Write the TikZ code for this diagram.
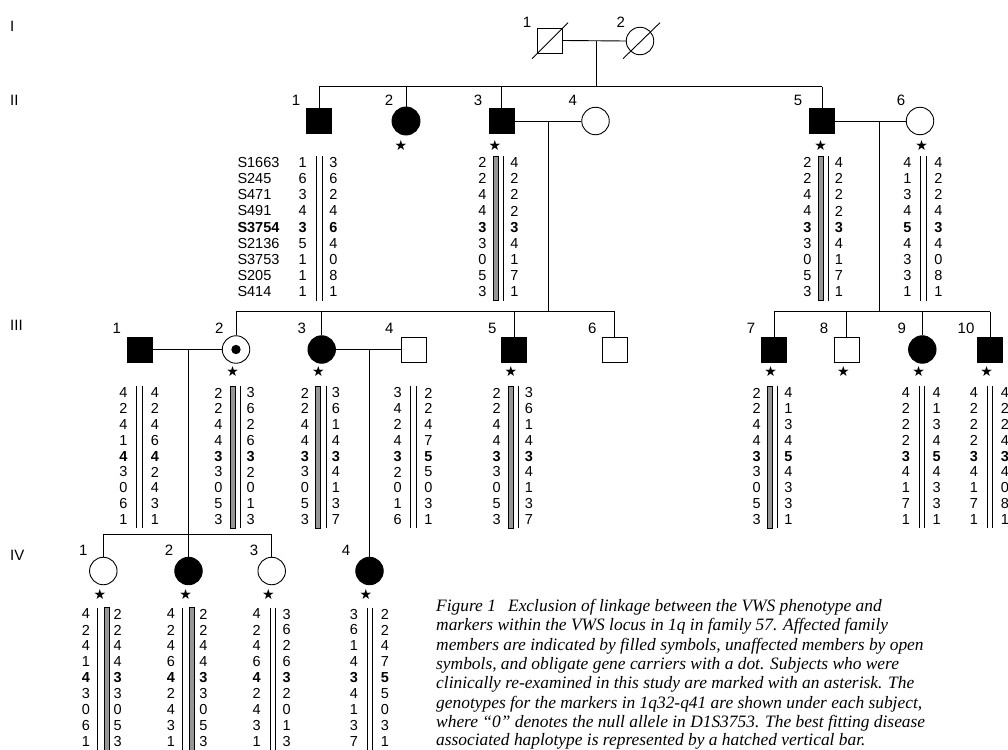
\documentclass[tikz,border=0pt]{standalone}
\usepackage{fontspec}
\setmainfont{Liberation Serif}
\setsansfont{Liberation Sans}
\newfontfamily\symfont{DejaVu Sans}
\usetikzlibrary{calc}
\definecolor{barg}{RGB}{150,150,150}
\newcommand\hapfont{\sffamily\fontsize{14.5}{14.5}\selectfont}
\newcommand\pedfont{\sffamily\fontsize{15}{15}\selectfont}
\newcommand\capfont{\rmfamily\itshape\fontsize{17.4}{19.5}\selectfont}
\newcommand\starfont{\symfont\fontsize{14}{14}\selectfont}
\tikzset{
  ln/.style={line width=0.9pt},
  male/.style={draw,rectangle,minimum size=25pt,inner sep=0pt,line width=0.9pt},
  female/.style={draw,circle,minimum size=27.5pt,inner sep=0pt,line width=0.9pt},
  aff/.style={fill=black},
  plbl/.style={font=\pedfont,inner sep=0pt},
  hnum/.style={font=\hapfont,inner sep=0pt},
  hnumb/.style={font=\hapfont\bfseries,inner sep=0pt},
  stmark/.style={font=\starfont,inner sep=0pt},
  bar/.style={line width=0.9pt},
  gbar/.style={draw=black,fill=barg,line width=0.8pt},
  captxt/.style={font=\capfont,inner sep=0pt,anchor=base west}
}
% column of alleles: #1 x, #2 y1, #3 dy, #4 list, #5 name
\newcommand\hapcol[5]{%
  \foreach \v [count=\i] in {#4} {%
    \ifnum\i=5
      \node[hnumb] (#5\i) at (#1,{#2+(\i-1)*#3}) {\v};
    \else
      \node[hnum] (#5\i) at (#1,{#2+(\i-1)*#3}) {\v};
    \fi
  }}
\newcommand\dblbar[4]{\draw[bar] (#1,#3) -- (#1,#4); \draw[bar] (#2,#3) -- (#2,#4);}
\newcommand\greyL[4]{\draw[gbar] ({#1-2.6},#3) rectangle ({#1+2.6},#4); \draw[bar] (#2,#3) -- (#2,#4);}
\newcommand\greyR[4]{\draw[bar] (#1,#3) -- (#1,#4); \draw[gbar] ({#2-2.6},#3) rectangle ({#2+2.6},#4);}
\begin{document}
\begin{tikzpicture}[x=1pt,y=-1pt]
\useasboundingbox (0,0) rectangle (1008,749);
% generation labels
\node[plbl,anchor=west] (gI) at (10,26) {I};
\node[plbl,anchor=west] (gII) at (10,100) {II};
\node[plbl,anchor=west] (gIII) at (10,325) {III};
\node[plbl,anchor=west] (gIV) at (10,555) {IV};

% ---------- Generation I
\node[male] (I1) at (550,40.5) {};
\node[female] (I2) at (640,41) {};
\draw[ln] ($(I1)+(-18,18.2)$) -- ($(I1)+(18,-17.8)$);
\draw[ln] ($(I2)+(-17,17.7)$) -- ($(I2)+(20,-18.3)$);
\node[plbl] (lI1) at (527,22) {1};
\node[plbl] (lI2) at (620.7,22) {2};
\draw[ln] (I1.east) -- (I2.west);
\coordinate (mI) at (596,41);
\coordinate (sII) at (596,86.7);
\draw[ln] (mI) -- (sII);

% ---------- Generation II
\node[male,aff] (II1) at (319.2,121) {};
\node[female,aff,minimum size=28pt] (II2) at (406,121) {};
\node[male,aff] (II3) at (501.7,121) {};
\node[female] (II4) at (595.5,121) {};
\node[male,aff] (II5) at (822,121) {};
\node[female] (II6) at (920,121) {};
\node[plbl] (lII1) at (296,100) {1};
\node[plbl] (lII2) at (389,100) {2};
\node[plbl] (lII3) at (478,100) {3};
\node[plbl] (lII4) at (572.7,100) {4};
\node[plbl] (lII5) at (798,100) {5};
\node[plbl] (lII6) at (901,100) {6};
\node[stmark] (sII2) at (401,145) {★};
\node[stmark] (sII3) at (495,145) {★};
\node[stmark] (sII5) at (820.7,145) {★};
\node[stmark] (sII6) at (921.7,145) {★};
\draw[ln] (II1 |- sII) -- (II5 |- sII);
\foreach \p in {II1,II2,II3,II5} \draw[ln] (\p |- sII) -- (\p.north);
\draw[ln] (II3.east) -- (II4.west);
\coordinate (mII34) at (548.3,121);
\coordinate (sIIIa) at (548.3,311.7);
\draw[ln] (mII34) -- (sIIIa);
\draw[ln] (II5.east) -- (II6.west);
\coordinate (mII56) at (879.3,121);
\coordinate (sIIIb) at (879.3,311.7);
\draw[ln] (mII56) -- (sIIIb);

% Generation II haplotypes
\foreach \t [count=\i] in {S1663,S245,S471,S491,S3754,S2136,S3753,S205,S414} {
  \ifnum\i=5
    \node[hnumb,anchor=west] (mk\i) at (237.3,{162.7+(\i-1)*16.1}) {\t};
  \else
    \node[hnum,anchor=west] (mk\i) at (237.3,{162.7+(\i-1)*16.1}) {\t};
  \fi
}
\hapcol{302.7}{162.7}{16.1}{1,6,3,4,3,5,1,1,1}{hII1a}
\hapcol{333.3}{162.7}{16.1}{3,6,2,4,6,4,0,8,1}{hII1b}
\dblbar{316}{322}{156}{300.5}
\hapcol{482.3}{162.7}{16.1}{2,2,4,4,3,3,0,5,3}{hII3a}
\hapcol{514.3}{162.7}{16.1}{4,2,2,2,3,4,1,7,1}{hII3b}
\greyL{495.8}{503.3}{156}{300.5}
\hapcol{807.3}{162.7}{16.1}{2,2,4,4,3,3,0,5,3}{hII5a}
\hapcol{839}{162.7}{16.1}{4,2,2,2,3,4,1,7,1}{hII5b}
\greyL{821.2}{828.3}{156}{300.5}
\hapcol{907.3}{162.7}{16.1}{4,1,3,4,5,4,3,3,1}{hII6a}
\hapcol{938.3}{162.7}{16.1}{4,2,2,4,3,4,0,8,1}{hII6b}
\dblbar{920.7}{926}{156}{300.5}

% ---------- Generation III
\node[male,aff] (III1) at (140,349.5) {};
\node[female] (III2) at (236,349.5) {};
\node[circle,fill=black,minimum size=9.4pt,inner sep=0pt] (III2d) at (III2) {};
\node[female,aff] (III3) at (321.7,349.5) {};
\node[male] (III4) at (414.2,349.5) {};
\node[male,aff] (III5) at (514.2,349.5) {};
\node[male] (III6) at (614.8,349.5) {};
\node[male,aff] (III7) at (774,349.5) {};
\node[male] (III8) at (846.7,349.5) {};
\node[female,aff] (III9) at (922.3,349.5) {};
\node[male,aff] (III10) at (990,349.5) {};
\node[plbl] (lIII1) at (116.7,328) {1};
\node[plbl] (lIII2) at (219.3,328) {2};
\node[plbl] (lIII3) at (301.7,328) {3};
\node[plbl] (lIII4) at (389.3,328) {4};
\node[plbl] (lIII5) at (492.3,328) {5};
\node[plbl] (lIII6) at (592.3,328) {6};
\node[plbl] (lIII7) at (751,328) {7};
\node[plbl] (lIII8) at (824,328) {8};
\node[plbl] (lIII9) at (901.7,328) {9};
\node[plbl] (lIII10) at (966,328) {10};
\node[stmark] (sIII2) at (232.7,371.7) {★};
\node[stmark] (sIII3) at (318.3,371.7) {★};
\node[stmark] (sIII5) at (511,371.7) {★};
\node[stmark] (sIII7) at (770.7,371.7) {★};
\node[stmark] (sIII8) at (843.3,371.7) {★};
\node[stmark] (sIII9) at (918.7,371.7) {★};
\node[stmark] (sIII10) at (986.7,371.7) {★};
\draw[ln] (III2 |- sIIIa) -- (III6 |- sIIIa);
\foreach \p in {III2,III3,III5,III6} \draw[ln] (\p |- sIIIa) -- (\p.north);
\draw[ln] (III7 |- sIIIb) -- (III10 |- sIIIb);
\foreach \p in {III7,III8,III9,III10} \draw[ln] (\p |- sIIIb) -- (\p.north);
\draw[ln] (III1.east) -- (III2.west);
\draw[ln] (III3.east) -- (III4.west);

% Generation III haplotypes
\hapcol{123.3}{393}{15.8}{4,2,4,1,4,3,0,6,1}{hIII1a}
\hapcol{155}{393}{15.8}{4,2,4,6,4,2,4,3,1}{hIII1b}
\dblbar{136.7}{142.3}{386}{528.3}
\hapcol{218.3}{393}{15.8}{2,2,4,4,3,3,0,5,3}{hIII2a}
\hapcol{250.7}{393}{15.8}{3,6,2,6,3,2,0,1,3}{hIII2b}
\greyL{232.5}{240}{386}{528.3}
\hapcol{305}{393}{15.8}{2,2,4,4,3,3,0,5,3}{hIII3a}
\hapcol{336}{393}{15.8}{3,6,1,4,3,4,1,3,7}{hIII3b}
\greyL{318.2}{326}{386}{528.3}
\hapcol{397.7}{393}{15.8}{3,4,2,4,3,2,0,1,6}{hIII4a}
\hapcol{428.3}{393}{15.8}{2,2,4,7,5,5,0,3,1}{hIII4b}
\dblbar{410.7}{416}{386}{528.3}
\hapcol{496.7}{393}{15.8}{2,2,4,4,3,3,0,5,3}{hIII5a}
\hapcol{529}{393}{15.8}{3,6,1,4,3,4,1,3,7}{hIII5b}
\greyL{510.8}{518.3}{386}{528.3}
\hapcol{756.7}{393}{15.8}{2,2,4,4,3,3,0,5,3}{hIII7a}
\hapcol{788.3}{393}{15.8}{4,1,3,4,5,4,3,3,1}{hIII7b}
\greyL{770.2}{777.7}{386}{528.3}
\hapcol{906}{393}{15.8}{4,2,2,2,3,4,1,7,1}{hIII9a}
\hapcol{936.7}{393}{15.8}{4,1,3,4,5,4,3,3,1}{hIII9b}
\dblbar{919.3}{924.3}{386}{528.3}
\hapcol{974}{393}{15.8}{4,2,2,2,3,4,1,7,1}{hIII10a}
\hapcol{1005}{393}{15.8}{4,2,2,4,3,4,0,8,1}{hIII10b}
\dblbar{987.7}{992.7}{386}{528.3}

% ---------- Generation IV
\node[female] (IV1) at (103.3,571) {};
\node[female,aff] (IV2) at (188.5,571) {};
\node[female] (IV3) at (271.7,571) {};
\node[female,aff] (IV4) at (369.5,571) {};
\node[plbl] (lIV1) at (83.3,550) {1};
\node[plbl] (lIV2) at (169,550) {2};
\node[plbl] (lIV3) at (254,550) {3};
\node[plbl] (lIV4) at (346,550) {4};
\node[stmark] (sIV1) at (100,594.3) {★};
\node[stmark] (sIV2) at (185.7,594.3) {★};
\node[stmark] (sIV3) at (268.3,594.3) {★};
\node[stmark] (sIV4) at (366,594.3) {★};
\coordinate (mIII12) at (188.5,349.5);
\coordinate (sIV) at (188.5,534);
\draw[ln] (mIII12) -- (IV2.north);
\draw[ln] (IV1 |- sIV) -- (IV3 |- sIV);
\draw[ln] (IV1 |- sIV) -- (IV1.north);
\draw[ln] (IV3 |- sIV) -- (IV3.north);
\coordinate (mIII34) at (369.5,349.5);
\draw[ln] (mIII34) -- (IV4.north);

% Generation IV haplotypes
\hapcol{86}{614}{15.96}{4,2,4,1,4,3,0,6,1}{hIV1a}
\hapcol{117.7}{614}{15.96}{2,2,4,4,3,3,0,5,3}{hIV1b}
\greyR{97.3}{106.7}{607.5}{760}
\hapcol{171}{614}{15.96}{4,2,4,6,4,2,4,3,1}{hIV2a}
\hapcol{203.3}{614}{15.96}{2,2,4,4,3,3,0,5,3}{hIV2b}
\greyR{182.7}{191.7}{607.5}{760}
\hapcol{256.7}{614}{15.96}{4,2,4,6,4,2,4,3,1}{hIV3a}
\hapcol{286.7}{614}{15.96}{3,6,2,6,3,2,0,1,3}{hIV3b}
\dblbar{270}{275}{607.5}{760}
\hapcol{354}{614}{15.96}{3,6,1,4,3,4,1,3,7}{hIV4a}
\hapcol{385}{614}{15.96}{2,2,4,7,5,5,0,3,1}{hIV4b}
\dblbar{367.3}{372.7}{607.5}{760}

% ---------- Caption
\node[captxt] (c1) at (436,611.2) {Figure 1\hspace{0.7em}Exclusion of linkage between the VWS phenotype and};
\node[captxt] (c2) at (436,630.6) {markers within the VWS locus in 1q in family 57. Affected family};
\node[captxt] (c3) at (436,650.0) {members are indicated by filled symbols, unaffected members by open};
\node[captxt] (c4) at (436,669.4) {symbols, and obligate gene carriers with a dot. Subjects who were};
\node[captxt] (c5) at (436,688.8) {clinically re-examined in this study are marked with an asterisk. The};
\node[captxt] (c6) at (436,708.2) {genotypes for the markers in 1q32-q41 are shown under each subject,};
\node[captxt] (c7) at (436,727.6) {where “0” denotes the null allele in D1S3753. The best fitting disease};
\node[captxt] (c8) at (436,745.0) {associated haplotype is represented by a hatched vertical bar.};
\end{tikzpicture}
\end{document}
